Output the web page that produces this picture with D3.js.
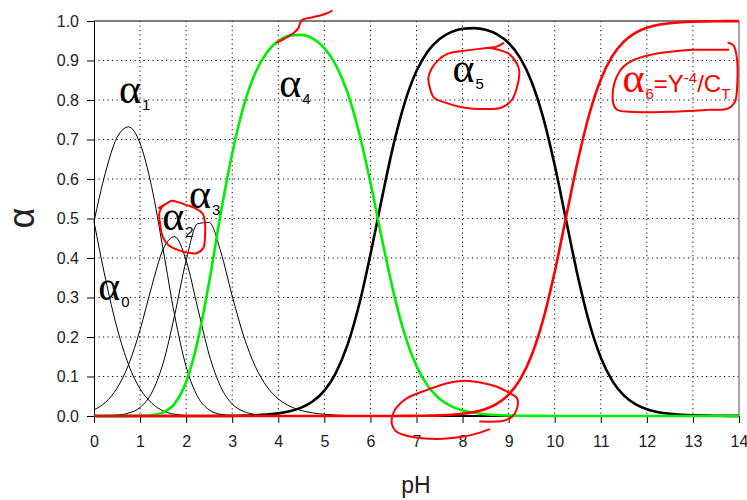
<!DOCTYPE html>
<html>
<head>
<meta charset="utf-8">
<script src="https://cdn.jsdelivr.net/npm/d3@7"></script>
<style>
  body { margin: 0; background: #fff; }
  text { font-family: "Liberation Sans", Arial, sans-serif; }
</style>
</head>
<body>
<div id="chart"></div>
<script>
// pH grid the curves were read at
const pH = [0, 0.25, 0.5, 0.75, 1, 1.25, 1.5, 1.75, 2, 2.25,
  2.5, 2.75, 3, 3.25, 3.5, 3.75, 4, 4.25, 4.5, 4.75,
  5, 5.25, 5.5, 5.75, 6, 6.25, 6.5, 6.75, 7, 7.25,
  7.5, 7.75, 8, 8.25, 8.5, 8.75, 9, 9.25, 9.5, 9.75,
  10, 10.25, 10.5, 10.75, 11, 11.25, 11.5, 11.75, 12, 12.25,
  12.5, 12.75, 13, 13.25, 13.5, 13.75, 14];

const alpha0 = [0.492, 0.347, 0.223, 0.130, 0.069, 0.033, 0.013, 0.0045, 0.0012, 0.0003,
  0, 0, 0, 0, 0, 0, 0, 0, 0, 0,
  0, 0, 0, 0, 0, 0, 0, 0, 0, 0,
  0, 0, 0, 0, 0, 0, 0, 0, 0, 0,
  0, 0, 0, 0, 0, 0, 0, 0, 0, 0,
  0, 0, 0, 0, 0, 0, 0];

const alpha1 = [0.492, 0.617, 0.705, 0.732, 0.690, 0.581, 0.422, 0.255, 0.125, 0.049,
  0.0155, 0.0042, 0.001, 0.0002, 0, 0, 0, 0, 0, 0,
  0, 0, 0, 0, 0, 0, 0, 0, 0, 0,
  0, 0, 0, 0, 0, 0, 0, 0, 0, 0,
  0, 0, 0, 0, 0, 0, 0, 0, 0, 0,
  0, 0, 0, 0, 0, 0, 0];

const alpha2 = [0.0156, 0.0347, 0.0705, 0.130, 0.218, 0.327, 0.422, 0.454, 0.394, 0.274,
  0.155, 0.0741, 0.0304, 0.0114, 0.0040, 0.0013, 0.0004, 0.0001, 0, 0,
  0, 0, 0, 0, 0, 0, 0, 0, 0, 0,
  0, 0, 0, 0, 0, 0, 0, 0, 0, 0,
  0, 0, 0, 0, 0, 0, 0, 0, 0, 0,
  0, 0, 0, 0, 0, 0, 0];

const alpha3 = [0.0002, 0.0006, 0.0022, 0.0073, 0.0218, 0.0581, 0.1335, 0.2552, 0.394, 0.487,
  0.490, 0.4165, 0.3037, 0.2019, 0.1256, 0.0748, 0.0434, 0.0248, 0.0139, 0.0078,
  0.0043, 0.0023, 0.0012, 0.0006, 0.0003, 0.0001, 0, 0, 0, 0,
  0, 0, 0, 0, 0, 0, 0, 0, 0, 0,
  0, 0, 0, 0, 0, 0, 0, 0, 0, 0,
  0, 0, 0, 0, 0, 0, 0];

const alpha4 = [0, 0, 0, 0.0001, 0.0005, 0.0023, 0.0092, 0.0314, 0.0862, 0.1896,
  0.339, 0.5124, 0.6645, 0.7856, 0.8686, 0.9203, 0.9496, 0.9633, 0.9649, 0.9551,
  0.9313, 0.8884, 0.8195, 0.7191, 0.5909, 0.4484, 0.3137, 0.2045, 0.1263, 0.0751,
  0.0436, 0.0250, 0.0142, 0.0080, 0.0045, 0.0025, 0.0014, 0.0007, 0.0004, 0.0002,
  0.0001, 0, 0, 0, 0, 0, 0, 0, 0, 0,
  0, 0, 0, 0, 0, 0, 0];

const alpha5 = [0, 0, 0, 0, 0, 0, 0, 0, 0, 0,
  0.0001, 0.0002, 0.0005, 0.001, 0.0019, 0.0036, 0.0066, 0.0119, 0.0211, 0.0372,
  0.0644, 0.1093, 0.1793, 0.2797, 0.4088, 0.5516, 0.6863, 0.7955, 0.8732, 0.9239,
  0.9546, 0.9719, 0.9802, 0.9820, 0.9777, 0.9662, 0.9443, 0.9065, 0.8457, 0.7554,
  0.6347, 0.4942, 0.3546, 0.2361, 0.1481, 0.0890, 0.0521, 0.0300, 0.0171, 0.0097,
  0.0055, 0.0031, 0.0017, 0.0010, 0.0005, 0.0003, 0.0002];

const alpha6 = [0, 0, 0, 0, 0, 0, 0, 0, 0, 0,
  0, 0, 0, 0, 0, 0, 0, 0, 0, 0,
  0, 0, 0, 0, 0, 0.0001, 0.0001, 0.0003, 0.0005, 0.0009,
  0.0017, 0.0031, 0.0056, 0.0100, 0.0178, 0.0313, 0.0543, 0.0927, 0.1539, 0.2444,
  0.3652, 0.5058, 0.6454, 0.7639, 0.8519, 0.9110, 0.9479, 0.9700, 0.9829, 0.9903,
  0.9945, 0.9969, 0.9983, 0.9990, 0.9995, 0.9997, 0.9998];

const xTicks = [0, 1, 2, 3, 4, 5, 6, 7, 8, 9, 10, 11, 12, 13, 14];
const yTicks = [0, 0.1, 0.2, 0.3, 0.4, 0.5, 0.6, 0.7, 0.8, 0.9, 1.0];

// red hand-drawn marks, in [pH, alpha]
const inkAlpha2 = [[1.41, 0.527], [1.578, 0.538], [1.687, 0.545], [1.83, 0.541], [2.012, 0.534],
  [2.192, 0.526], [2.359, 0.512], [2.409, 0.488], [2.409, 0.454], [2.372, 0.425],
  [2.229, 0.412], [2.047, 0.413], [1.83, 0.42], [1.613, 0.433], [1.491, 0.454],
  [1.433, 0.488], [1.417, 0.513], [1.47, 0.528], [1.563, 0.537]];
const inkAlpha4 = [[3.966, 0.945], [4.146, 0.956], [4.326, 0.969], [4.435, 0.982], [4.471, 0.994],
  [4.521, 1.003], [4.725, 1.009], [4.942, 1.015], [5.086, 1.021], [5.16, 1.026]];
const inkAlpha5 = [[8.884, 0.944], [8.741, 0.935], [8.559, 0.932], [7.981, 0.924], [7.656, 0.916],
  [7.473, 0.901], [7.33, 0.88], [7.256, 0.855], [7.293, 0.83], [7.38, 0.806],
  [7.656, 0.792], [8.016, 0.781], [8.45, 0.777], [8.849, 0.781], [9.067, 0.8],
  [9.175, 0.83], [9.232, 0.872], [9.175, 0.893], [8.993, 0.918], [8.776, 0.927], [8.559, 0.932]];
const inkAlpha6 = [[13.768, 0.927], [13.516, 0.927], [13.008, 0.927], [12.503, 0.922], [12.068, 0.914],
  [11.706, 0.901], [11.489, 0.884], [11.346, 0.859], [11.272, 0.83], [11.272, 0.792],
  [11.346, 0.776], [11.634, 0.77], [12.431, 0.77], [13.299, 0.775], [13.768, 0.779],
  [13.913, 0.796], [13.963, 0.842], [13.95, 0.91], [13.877, 0.939], [13.768, 0.945]];
const inkBottom = [[8.58, -0.034], [8.379, -0.042], [8.016, -0.052], [7.439, -0.058], [6.859, -0.052],
  [6.571, -0.04], [6.462, -0.018], [6.497, 0.007], [6.577, 0.023], [6.794, 0.045],
  [7.228, 0.066], [7.662, 0.083], [8.016, 0.089], [8.379, 0.085], [8.748, 0.074],
  [9.036, 0.057], [9.182, 0.045], [9.182, 0.019], [9.073, -0.002], [8.893, -0.012],
  [8.748, -0.014], [8.379, -0.014]];

const width = 747, height = 500;
const margin = { top: 21, right: 8, bottom: 84, left: 94 };
const w = width - margin.left - margin.right;
const h = height - margin.top - margin.bottom;

const svg = d3.select("#chart").append("svg")
  .attr("width", width)
  .attr("height", height);

const g = svg.append("g")
  .attr("transform", `translate(${margin.left},${margin.top})`);

const x = d3.scaleLinear().domain([0, 14]).range([0, w]);
const y = d3.scaleLinear().domain([0, 1]).range([h, 0]);

// dotted grid
g.append("g").selectAll("line")
  .data(xTicks.slice(1, -1))
  .enter().append("line")
  .attr("x1", d => x(d)).attr("x2", d => x(d))
  .attr("y1", 0).attr("y2", h)
  .attr("stroke", "#000")
  .attr("stroke-dasharray", "1.2,3.3");

g.append("g").selectAll("line")
  .data(yTicks.slice(1, -1))
  .enter().append("line")
  .attr("x1", 0).attr("x2", w)
  .attr("y1", d => y(d)).attr("y2", d => y(d))
  .attr("stroke", "#000")
  .attr("stroke-dasharray", "1.2,3.3");

// frame on top and right
g.append("line").attr("x1", 0).attr("x2", w).attr("y1", 0).attr("y2", 0)
  .attr("stroke", "#555").attr("stroke-width", 1.5);
g.append("line").attr("x1", w).attr("x2", w).attr("y1", 0).attr("y2", h)
  .attr("stroke", "#888").attr("stroke-width", 1.5);

// axes
const xAxis = g.append("g")
  .attr("transform", `translate(0,${h})`)
  .call(d3.axisBottom(x).tickValues(xTicks).tickSize(7).tickPadding(13).tickFormat(d3.format("d")));
const yAxis = g.append("g")
  .call(d3.axisLeft(y).tickValues(yTicks).tickSize(7).tickPadding(8).tickFormat(d3.format(".1f")));

[xAxis, yAxis].forEach(a => {
  a.select(".domain").attr("stroke", "#000");
  a.selectAll(".tick line").attr("stroke", "#000");
  a.selectAll(".tick text")
    .attr("font-family", "Liberation Sans, Arial, sans-serif")
    .attr("font-size", 16)
    .attr("fill", "#222");
});

// curves
const series = [
  { values: alpha0, color: "#000", width: 1 },
  { values: alpha1, color: "#000", width: 1 },
  { values: alpha2, color: "#000", width: 1 },
  { values: alpha3, color: "#000", width: 1 },
  { values: alpha5, color: "#000", width: 2.6 },
  { values: alpha4, color: "#00ee00", width: 2.6 },
  { values: alpha6, color: "#ff0000", width: 2.6 }
];

const line = d3.line()
  .x(d => x(d[0]))
  .y(d => y(d[1]))
  .curve(d3.curveMonotoneX);

series.forEach(s => {
  g.append("path")
    .datum(pH.map((p, i) => [p, s.values[i]]))
    .attr("d", line)
    .attr("fill", "none")
    .attr("stroke", s.color)
    .attr("stroke-width", s.width)
    .attr("stroke-linejoin", "round");
});

// curve labels
function alphaLabel(px, py, sub, color) {
  const t = g.append("text")
    .attr("x", x(px))
    .attr("y", y(py))
    .attr("fill", color);
  t.append("tspan")
    .attr("font-family", "Liberation Serif, Times New Roman, serif")
    .attr("font-size", 42)
    .text("α");
  t.append("tspan")
    .attr("font-size", 15)
    .attr("dx", 1)
    .attr("dy", 7)
    .text(sub);
  return t;
}

alphaLabel(0.09, 0.294, "0", "#000");
alphaLabel(0.54, 0.792, "1", "#000");
alphaLabel(1.48, 0.471, "2", "#000");
alphaLabel(2.06, 0.527, "3", "#000");
alphaLabel(4.02, 0.808, "4", "#000");
alphaLabel(7.78, 0.846, "5", "#000");

const l6 = alphaLabel(11.47, 0.82, "6", "#f00");
l6.append("tspan").attr("font-size", 24).attr("dy", -7).text("=Y");
l6.append("tspan").attr("font-size", 15).attr("dy", -9).text("-4");
l6.append("tspan").attr("font-size", 24).attr("dy", 9).text("/C");
l6.append("tspan").attr("font-size", 15).attr("dy", 7).text("T");

// axis titles
svg.append("text")
  .attr("x", 416)
  .attr("y", 493)
  .attr("text-anchor", "middle")
  .attr("font-size", 23)
  .attr("fill", "#222")
  .text("pH");

svg.append("text")
  .attr("transform", "translate(34,218) rotate(-90)")
  .attr("text-anchor", "middle")
  .attr("font-family", "Liberation Serif, Times New Roman, serif")
  .attr("font-size", 36)
  .attr("fill", "#222")
  .text("α");

// red pen marks
const ink = d3.line()
  .x(d => x(d[0]))
  .y(d => y(d[1]))
  .curve(d3.curveCatmullRom);

[inkAlpha2, inkAlpha4, inkAlpha5, inkAlpha6, inkBottom].forEach(pts => {
  g.append("path")
    .datum(pts)
    .attr("d", ink)
    .attr("fill", "none")
    .attr("stroke", "#f00")
    .attr("stroke-width", 2)
    .attr("stroke-linecap", "round")
    .attr("stroke-linejoin", "round");
});
</script>
</body>
</html>
